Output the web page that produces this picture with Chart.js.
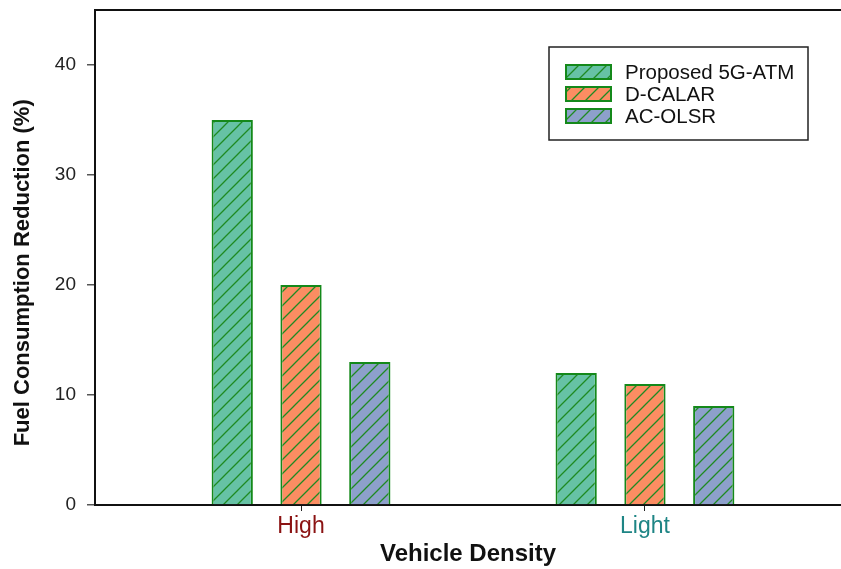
<!DOCTYPE html>
<html>
<head>
<meta charset="utf-8">
<script src="https://cdn.jsdelivr.net/npm/chart.js@4.4.1/dist/chart.umd.min.js"></script>
<style>
html, body { margin: 0; padding: 0; background: #fff; }
</style>
</head>
<body>
<canvas id="miGrafica" width="841" height="569"></canvas>
<script>
const categorias = ["High", "Light"]
const colorCategorias = ["#8b1313", "#1e8585"]
const series = ["Proposed 5G-ATM", "D-CALAR", "AC-OLSR"]
const proposed = [35, 12]
const dcalar = [20, 11]
const acolsr = [13, 9]
const yTicks = [0, 10, 20, 30, 40]

const fuente = "'Liberation Sans', Arial, sans-serif"
const verdeBorde = "#14891a"

// relleno con rayado diagonal
function rayado(color) {
    const c = document.createElement("canvas")
    c.width = 14
    c.height = 14
    const g = c.getContext("2d")
    g.fillStyle = color
    g.fillRect(0, 0, 14, 14)
    g.strokeStyle = "#1f8a22"
    g.lineWidth = 1.3
    g.beginPath()
    g.moveTo(0, 14); g.lineTo(14, 0)
    g.moveTo(-2, 2); g.lineTo(2, -2)
    g.moveTo(12, 16); g.lineTo(16, 12)
    g.stroke()
    return g.createPattern(c, "repeat")
}

const toXY = arr => arr.map((v, i) => ({ x: i + 1, y: v }))

const leyenda = {
    id: "leyenda",
    afterDatasetsDraw(chart) {
        const ctx = chart.ctx
        ctx.save()
        ctx.strokeStyle = "#222"
        ctx.lineWidth = 1.5
        ctx.strokeRect(549, 47, 259, 93)
        chart.data.datasets.forEach((ds, i) => {
            const y = 65 + i * 22
            ctx.fillStyle = ds.backgroundColor
            ctx.fillRect(566, y, 45, 14)
            ctx.strokeStyle = verdeBorde
            ctx.lineWidth = 2
            ctx.strokeRect(566, y, 45, 14)
            ctx.fillStyle = "#111"
            ctx.font = "20.5px " + fuente
            ctx.textBaseline = "middle"
            ctx.textAlign = "left"
            ctx.fillText(ds.label, 625, y + 8)
        })
        ctx.restore()
    },
    afterDraw(chart) {
        const { ctx, chartArea } = chart
        ctx.save()
        ctx.strokeStyle = "#111"
        ctx.lineWidth = 2
        ctx.beginPath()
        ctx.moveTo(chartArea.left, chartArea.top)
        ctx.lineTo(chartArea.right, chartArea.top)
        ctx.stroke()
        ctx.restore()
    }
}

const ctx = document.getElementById("miGrafica").getContext("2d")
new Chart(ctx, {
    type: "bar",
    data: {
        datasets: [
            { label: series[0], data: toXY(proposed), backgroundColor: rayado("#66c2a5") },
            { label: series[1], data: toXY(dcalar), backgroundColor: rayado("#fc8d62") },
            { label: series[2], data: toXY(acolsr), backgroundColor: rayado("#8da0cb") }
        ].map(d => Object.assign(d, {
            borderColor: verdeBorde,
            borderWidth: 2,
            categoryPercentage: 0.6,
            barPercentage: 0.6
        }))
    },
    options: {
        responsive: false,
        animation: false,
        layout: { padding: { top: 10, left: 0, right: 0, bottom: 0 } },
        plugins: {
            legend: { display: false },
            tooltip: { enabled: false }
        },
        scales: {
            x: {
                type: "linear",
                min: 0.401,
                max: 2.57,
                offset: false,
                grid: { display: true, offset: false, drawOnChartArea: false, drawTicks: true, tickLength: 6, color: "#222", lineWidth: 1 },
                border: { display: true, color: "#111", width: 2 },
                afterBuildTicks: s => { s.ticks = categorias.map((c, i) => ({ value: i + 1 })) },
                afterFit: s => { s.height = 64; s.paddingLeft = 0; s.paddingRight = 0 },
                ticks: {
                    autoSkip: false,
                    maxRotation: 0,
                    padding: 2,
                    callback: v => categorias[v - 1],
                    color: c => colorCategorias[c.index],
                    font: { family: fuente, size: 23 }
                },
                title: {
                    display: true,
                    text: "Vehicle Density",
                    color: "#111",
                    font: { family: fuente, size: 24, weight: "bold" },
                    padding: { top: 0, bottom: 0 }
                }
            },
            y: {
                min: 0,
                max: 45,
                grid: { display: true, drawOnChartArea: false, drawTicks: true, tickLength: 8, color: "#555", lineWidth: 1.5 },
                border: { display: true, color: "#111", width: 2 },
                afterBuildTicks: s => { s.ticks = yTicks.map(v => ({ value: v })) },
                afterFit: s => { s.width = 95; s.paddingTop = 0; s.paddingBottom = 0 },
                ticks: {
                    padding: 11,
                    color: "#222",
                    font: { family: fuente, size: 19 }
                },
                title: {
                    display: true,
                    text: "Fuel Consumption Reduction (%)     ",
                    color: "#111",
                    font: { family: fuente, size: 22, weight: "bold" },
                    padding: { top: 10, bottom: 0 }
                }
            }
        }
    },
    plugins: [leyenda]
})
</script>
</body>
</html>
